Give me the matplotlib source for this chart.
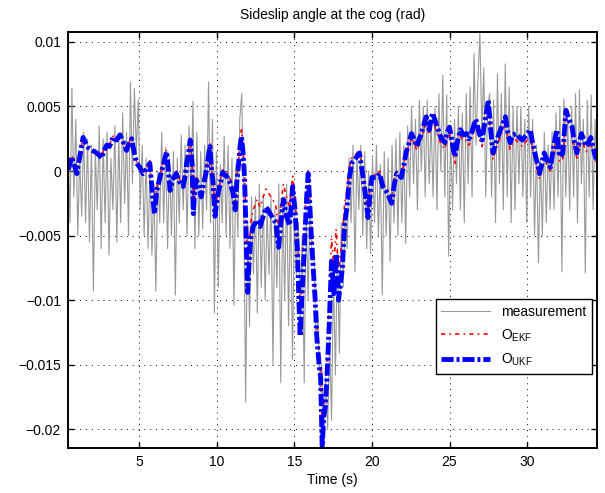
import matplotlib.pyplot as plt
import numpy as np

# measured sideslip (gray), read segment by segment (8 samples per ~1 s)
meas = [
    0.003, -0.004, 0.0064, -0.002, 0.004, -0.005, 0.001, -0.0035,
    0.003, -0.004, 0.0025, -0.0055, 0.002, -0.0093, 0.0015, -0.003,
    0.0035, -0.006, 0.0025, -0.004, 0.003, -0.0065, 0.001, -0.003,
    0.0035, -0.0055, 0.0028, -0.004, 0.0045, -0.0025, 0.003, -0.005,
    0.0069, -0.001, 0.0064, 0.0015, 0.0055, -0.003, 0.002, -0.005,
    0.001, -0.006, 0.0005, -0.0065, -0.001, -0.0093, 0.0, -0.004,
    0.003, -0.004, 0.0018, -0.006, 0.001, -0.005, 0.0015, -0.0096,
    0.001, -0.004, 0.0028, -0.003, 0.002, -0.005, 0.0035, -0.002,
    0.0054, -0.006, 0.003, -0.005, 0.0015, -0.0045, 0.002, -0.003,
    0.0069, -0.004, 0.004, -0.011, 0.0015, -0.009, 0.0005, -0.004,
    0.0027, -0.005, 0.002, -0.006, 0.001, -0.0104, 0.0005, -0.005,
    0.004, 0.006, -0.002, -0.0179, -0.004, -0.012, -0.002, -0.008,
    -0.002, -0.011, -0.001, -0.009, -0.002, -0.010, -0.003, -0.008,
    -0.002, -0.015, -0.003, -0.009, -0.001, -0.0164, -0.002, -0.010,
    -0.001, -0.012, -0.002, -0.0146, -0.003, -0.008, -0.004, -0.012,
    -0.005, -0.0164, -0.003, -0.010, -0.002, -0.007, -0.006, -0.013,
    -0.011, -0.017, -0.015, -0.021, -0.016, -0.020, -0.013, -0.0193,
    -0.008, -0.0158, -0.006, -0.0141, -0.004, -0.009, -0.003, -0.006,
    0.001, -0.004, 0.002, -0.0078, 0.0015, -0.003, 0.002, -0.005,
    0.0015, -0.006, 0.0, -0.0064, 0.001, -0.004, 0.002, -0.005,
    0.0005, -0.0096, 0.0015, -0.005, 0.001, -0.007, 0.002, -0.004,
    0.0025, -0.005, 0.003, -0.004, 0.002, -0.0056, 0.0035, -0.002,
    0.005, -0.001, 0.004, -0.003, 0.0055, 0.0, 0.005, -0.002,
    0.0055, -0.001, 0.004, -0.002, 0.005, -0.003, 0.006, 0.0,
    0.0074, -0.002, 0.0059, -0.0066, 0.003, -0.003, 0.004, -0.001,
    0.005, -0.003, 0.0045, -0.004, 0.006, -0.001, 0.0065, -0.002,
    0.0091, 0.002, 0.007, 0.0108, 0.003, 0.008, -0.002, 0.005,
    0.006, -0.002, 0.0055, -0.004, 0.0075, -0.001, 0.006, -0.003,
    0.0083, -0.002, 0.0065, -0.004, 0.005, -0.003, 0.005, -0.001,
    0.005, -0.002, 0.004, -0.004, 0.005, -0.002, 0.004, -0.005,
    0.002, -0.0071, 0.001, -0.005, 0.003, -0.004, 0.002, -0.003,
    0.003, -0.003, 0.0045, -0.002, 0.005, -0.0078, 0.0056, -0.002,
    0.004, -0.003, 0.005, -0.002, 0.006, -0.004, 0.0063, -0.001,
    0.004, -0.0079, 0.0055, -0.002, 0.0059, -0.003, 0.004, -0.001,
]

# observer estimates, sampled at the same times
t_obs = [
    0.45, 0.67, 0.85, 1.0, 1.2, 1.4, 1.55, 1.74, 2.0, 2.28,
    2.45, 2.6, 2.75, 2.92, 3.1, 3.33, 3.55, 3.78, 4.0, 4.2,
    4.35, 4.53, 4.7, 4.85, 5.05, 5.26, 5.45, 5.7, 5.8, 5.9,
    6.0, 6.15, 6.35, 6.55, 6.78, 6.9, 7.0, 7.2, 7.4, 7.6,
    7.85, 8.0, 8.07, 8.2, 8.3, 8.42, 8.5, 8.6, 8.7, 8.85,
    9.0, 9.2, 9.36, 9.5, 9.57, 9.67, 9.77, 9.9, 10.05, 10.2,
    10.4, 10.55, 10.7, 10.9, 11.05, 11.2, 11.3, 11.4, 11.5, 11.6,
    11.7, 11.8, 11.9, 12.0, 12.1, 12.2, 12.35, 12.5, 12.6, 12.8,
    13.0, 13.2, 13.4, 13.6, 13.8, 14.0, 14.1, 14.3, 14.5, 14.7,
    14.9, 15.05, 15.2, 15.3, 15.38, 15.5, 15.65, 15.8, 15.9, 16.0,
    16.1, 16.2, 16.35, 16.45, 16.6, 16.7, 16.8, 16.9, 17.0, 17.1,
    17.25, 17.4, 17.55, 17.7, 17.85, 18.0, 18.1, 18.25, 18.4, 18.55,
    18.7, 18.9, 19.2, 19.4, 19.6, 19.75, 19.9, 20.0, 20.3, 20.5,
    20.7, 21.0, 21.27, 21.45, 21.6, 21.9, 22.05, 22.2, 22.4, 22.55,
    22.75, 22.9, 23.05, 23.2, 23.35, 23.5, 23.7, 23.9, 24.05, 24.2,
    24.45, 24.7, 24.85, 25.0, 25.2, 25.35, 25.5, 25.7, 25.9, 26.1,
    26.25, 26.4, 26.55, 26.7, 26.9, 27.1, 27.3, 27.5, 27.65, 27.8,
    27.95, 28.1, 28.35, 28.6, 28.75, 28.9, 29.1, 29.3, 29.5, 29.7,
    29.95, 30.2, 30.35, 30.5, 30.65, 30.8, 30.95, 31.1, 31.3, 31.5,
    31.7, 31.9, 32.0, 32.1, 32.3, 32.5, 32.7, 32.9, 33.05, 33.2,
    33.35, 33.5, 33.65, 33.8, 33.95, 34.1, 34.25, 34.45,
]
ukf = [
    0.0001, 0.0011, 0.0004, -0.0002, 0.0012, 0.0026, 0.0022, 0.0018, 0.0016, 0.0014,
    0.0012, 0.0010, 0.0016, 0.0020, 0.0019, 0.0026, 0.0024, 0.0028, 0.0022, 0.0016,
    0.0021, 0.0025, 0.0014, 0.0006, 0.0003, -0.0002, 0.0001, 0.0006, -0.0008, -0.0022,
    -0.0033, -0.0015, -0.0005, 0.0004, 0.0015, 0.0001, -0.0015, -0.0006, -0.0002, -0.0008,
    -0.0012, -0.0002, 0.0006, 0.0014, 0.0024, 0.0005, -0.0033, -0.0012, -0.0007, -0.0012,
    -0.0020, -0.0008, 0.0001, 0.0014, 0.0019, 0.0002, -0.0009, -0.0035, -0.0020, -0.0012,
    -0.0001, -0.0003, -0.0005, -0.0010, -0.0017, -0.0030, -0.0008, 0.0003, 0.0018, 0.0027,
    0.0015, -0.0005, -0.0051, -0.0094, -0.0070, -0.0052, -0.0043, -0.0040, -0.0038, -0.0043,
    -0.0035, -0.0028, -0.0032, -0.0036, -0.0040, -0.0059, -0.0045, -0.0022, -0.0035, -0.0042,
    -0.0012, -0.0030, -0.0060, -0.0100, -0.0128, -0.0095, -0.0060, -0.0020, -0.0002, -0.0025,
    -0.0051, -0.0071, -0.0100, -0.0128, -0.0150, -0.0160, -0.0214, -0.0190, -0.0183, -0.0162,
    -0.0120, -0.0070, -0.0095, -0.0064, -0.0100, -0.0085, -0.0075, -0.0040, -0.0028, -0.0005,
    0.0006, 0.0009, 0.0014, -0.0002, -0.0020, -0.0036, -0.0015, -0.0005, -0.0005, -0.0002,
    -0.0012, -0.0017, -0.0025, -0.0010, -0.0002, -0.0005, 0.0004, 0.0014, 0.0022, 0.0029,
    0.0024, 0.0019, 0.0025, 0.0029, 0.0036, 0.0042, 0.0032, 0.0045, 0.0040, 0.0034,
    0.0026, 0.0022, 0.0030, 0.0034, 0.0020, 0.0011, 0.0022, 0.0032, 0.0028, 0.0029,
    0.0025, 0.0029, 0.0035, 0.0040, 0.0030, 0.0024, 0.0040, 0.0055, 0.0032, 0.0014,
    0.0020, 0.0026, 0.0034, 0.0042, 0.0030, 0.0022, 0.0028, 0.0029, 0.0026, 0.0024,
    0.0028, 0.0032, 0.0022, 0.0014, 0.0006, -0.0002, 0.0006, 0.0014, 0.0008, 0.0003,
    0.0018, 0.0032, 0.0020, 0.0011, 0.0014, 0.0047, 0.0040, 0.0034, 0.0022, 0.0014,
    0.0022, 0.0029, 0.0024, 0.0019, 0.0022, 0.0026, 0.0018, 0.0009,
]
ekf = [
    0.0002, 0.0012, 0.0005, -0.0001, 0.0013, 0.0027, 0.0023, 0.0019, 0.0017, 0.0015,
    0.0013, 0.0011, 0.0017, 0.0021, 0.0020, 0.0027, 0.0025, 0.0029, 0.0023, 0.0017,
    0.0022, 0.0026, 0.0015, 0.0007, 0.0004, -0.0001, 0.0002, 0.0008, -0.0005, -0.0018,
    -0.0029, -0.0012, -0.0003, 0.0006, 0.0017, 0.0003, -0.0012, -0.0004, 0.0000, -0.0006,
    -0.0010, 0.0000, 0.0008, 0.0016, 0.0026, 0.0008, -0.0028, -0.0009, -0.0005, -0.0010,
    -0.0017, -0.0006, 0.0003, 0.0016, 0.0021, 0.0004, -0.0006, -0.0030, -0.0017, -0.0010,
    0.0001, 0.0000, -0.0002, -0.0007, -0.0014, -0.0026, -0.0005, 0.0006, 0.0022, 0.0032,
    0.0018, -0.0002, -0.0044, -0.0085, -0.0060, -0.0040, -0.0030, -0.0026, -0.0022, -0.0028,
    -0.0020, -0.0014, -0.0018, -0.0022, -0.0026, -0.0044, -0.0030, -0.0010, -0.0020, -0.0028,
    -0.0004, -0.0020, -0.0050, -0.0088, -0.0112, -0.0080, -0.0045, -0.0010, 0.0002, -0.0018,
    -0.0042, -0.0062, -0.0090, -0.0118, -0.0140, -0.0152, -0.0205, -0.0182, -0.0172, -0.0148,
    -0.0100, -0.0052, -0.0075, -0.0045, -0.0078, -0.0062, -0.0050, -0.0025, -0.0015, 0.0003,
    0.0010, 0.0012, 0.0016, 0.0001, -0.0016, -0.0031, -0.0011, -0.0002, -0.0003, 0.0000,
    -0.0010, -0.0014, -0.0021, -0.0007, 0.0000, -0.0003, 0.0005, 0.0014, 0.0020, 0.0026,
    0.0021, 0.0016, 0.0022, 0.0026, 0.0032, 0.0038, 0.0028, 0.0040, 0.0035, 0.0029,
    0.0021, 0.0017, 0.0025, 0.0029, 0.0015, 0.0006, 0.0017, 0.0027, 0.0023, 0.0024,
    0.0020, 0.0024, 0.0030, 0.0035, 0.0025, 0.0019, 0.0035, 0.0050, 0.0027, 0.0009,
    0.0015, 0.0021, 0.0029, 0.0037, 0.0025, 0.0017, 0.0023, 0.0024, 0.0021, 0.0019,
    0.0023, 0.0027, 0.0017, 0.0009, 0.0002, -0.0006, 0.0002, 0.0010, 0.0004, 0.0000,
    0.0014, 0.0028, 0.0016, 0.0007, 0.0010, 0.0043, 0.0036, 0.0030, 0.0018, 0.0010,
    0.0018, 0.0025, 0.0020, 0.0015, 0.0018, 0.0022, 0.0014, 0.0006,
]

x_ticks = [5, 10, 15, 20, 25, 30]
y_ticks = [-0.02, -0.015, -0.01, -0.005, 0, 0.005, 0.01]
y_labels = ["\u22120.02", "\u22120.015", "\u22120.01", "\u22120.005", "0", "0.005", "0.01"]

plt.rcParams["font.family"] = ["Liberation Sans", "DejaVu Sans"]
plt.rcParams["font.size"] = 10
plt.rcParams["mathtext.default"] = "regular"

t_meas = np.linspace(0.43, 34.5, len(meas))

fig = plt.figure(figsize=(6.05, 4.93), dpi=100)
ax = fig.add_axes([0.1124, 0.0913, 0.8744, 0.8438])

ax.plot(t_meas, meas, color="#999999", lw=0.8, label="measurement")
ax.plot(t_obs, ekf, color="red", lw=1.2, dashes=(2.5, 2.5, 1, 2.5),
        label="O$_{EKF}$")
ax.plot(t_obs, ukf, color="blue", lw=3.5, dashes=(2.5, 0.6, 0.6, 0.6),
        label="O$_{UKF}$")

ax.set_xlim(0.43, 34.5)
ax.set_ylim(-0.02145, 0.01077)
ax.set_xticks(x_ticks)
ax.set_yticks(y_ticks)
ax.set_yticklabels(y_labels)
ax.tick_params(direction="in", top=True, right=True, length=4, width=1.0,
               labelsize=10, pad=5)
ax.grid(True, color="black", linestyle=(0, (1, 5)), linewidth=0.7)
for s in ax.spines.values():
    s.set_linewidth(1.4)

ax.set_title("Sideslip angle at the cog (rad)", fontsize=10, pad=9)
ax.set_xlabel("Time (s)", fontsize=10, labelpad=3)

leg = ax.legend(loc="lower right", bbox_to_anchor=(0.99, 0.178), fancybox=False,
                framealpha=1, edgecolor="black", fontsize=10, handlelength=3.5,
                borderaxespad=0, labelspacing=0.6)
leg.get_frame().set_linewidth(1.0)

fig.savefig("out.png", dpi=100)
